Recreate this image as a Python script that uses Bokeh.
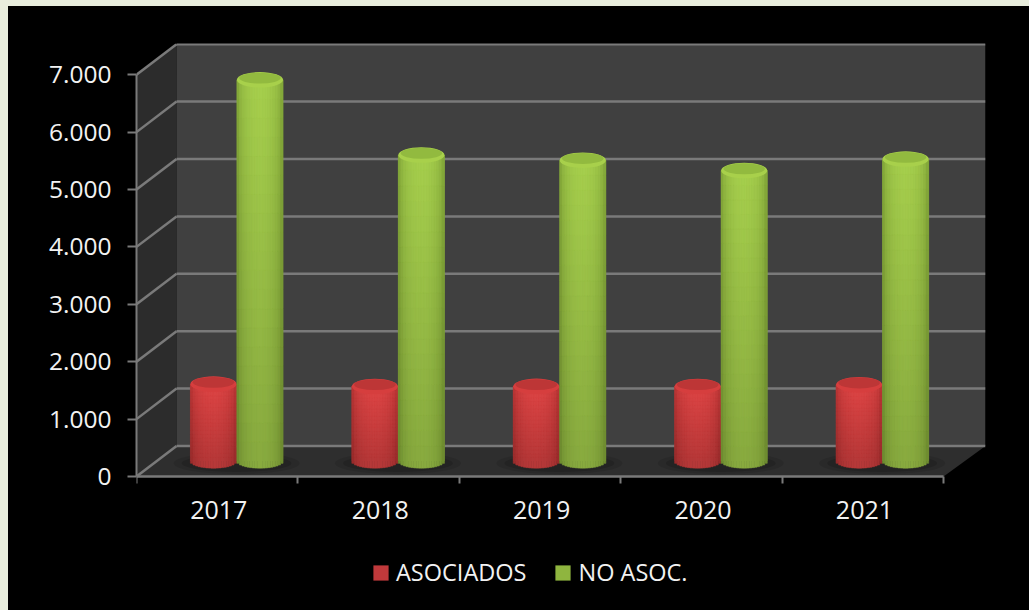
import math
from bokeh.plotting import figure
from bokeh.embed import file_html
from bokeh.resources import INLINE
from bokeh.models import Range1d, FixedTicker, LinearAxis, Legend, LegendItem
from bokeh.core.properties import value

years = ["2017", "2018", "2019", "2020", "2021"]
asociados = [1340, 1300, 1300, 1300, 1330]
no_asoc = [6640, 5330, 5240, 5060, 5260]
y_ticks = [0, 1000, 2000, 3000, 4000, 5000, 6000, 7000]
y_labels = ["0", "1.000", "2.000", "3.000", "4.000", "5.000", "6.000", "7.000"]

DX, DY = 0.248, 531      # oblique depth of the chart box
XMAX, YMIN, YMAX = 5.26, -2230, 7543
HALF = 0.143             # cylinder half width
BASE = 270               # cylinder base height on the floor
RY = 125                 # curvature of the cylinder ends
FONT = "Open Sans"
TEXT = "#f2f2f2"
GRID = "#7a7a7a"

p = figure(frame_width=849, frame_height=561, output_backend="svg", toolbar_location=None,
           x_range=Range1d(0, XMAX), y_range=Range1d(YMIN, YMAX),
           x_axis_type=None, y_axis_type=None,
           min_border_left=128, min_border_right=44, min_border_top=37, min_border_bottom=6,
           background_fill_color="#000000", border_fill_color="#000000", outline_line_color=None)
p.grid.visible = False

# chart box
p.patch([0, DX, DX, 0], [0, DY, 7000 + DY, 7000], fill_color="#2c2c2c", line_color=None)
p.patch([DX, XMAX, XMAX, DX], [DY, DY, 7000 + DY, 7000 + DY], fill_color="#404040", line_color=None)
p.patch([0, DX, XMAX, 5], [0, DY, DY, 0], fill_color="#2e2e2e", line_color=None)
p.segment([DX] * 8, [t + DY for t in y_ticks], [XMAX] * 8, [t + DY for t in y_ticks],
          line_color=GRID, line_width=2.5)
p.segment([0] * 8, y_ticks, [DX] * 8, [t + DY for t in y_ticks], line_color=GRID, line_width=2.5)

# floor shadows
p.ellipse([i + 0.62 for i in range(5)], [BASE - 40] * 5, width=0.78, height=380,
          fill_color="#000000", fill_alpha=0.10, line_color=None)
p.ellipse([i + 0.62 for i in range(5)], [BASE - 40] * 5, width=0.68, height=300,
          fill_color="#000000", fill_alpha=0.14, line_color=None)


def hexrgb(h):
    return tuple(int(h[i:i + 2], 16) for i in (1, 3, 5))


def cylinders(vals, offset, edge, centre, top_c, rim_c, mid):
    xs = [i + offset for i in range(len(vals))]
    body = p.quad(left=[x - HALF for x in xs], right=[x + HALF for x in xs],
                  bottom=[BASE] * len(vals), top=[v + BASE for v in vals],
                  fill_color=mid, line_color=None)
    e, m = hexrgb(edge), hexrgb(centre)
    L, R, B, T, C = [], [], [], [], []
    n_x, n_y = 18, 20
    for x, v in zip(xs, vals):
        for j in range(n_x):
            u0, u1 = -1 + 2 * j / n_x, -1 + 2 * (j + 1) / n_x
            uc = (u0 + u1) / 2
            bow = math.sqrt(max(0, 1 - uc * uc))
            shade = bow ** 0.8
            for k in range(n_y):
                y0 = BASE + v * k / n_y
                y1 = BASE + v * (k + 1) / n_y
                if k == 0:
                    y0 = BASE - RY * bow
                f = 0.82 + 0.18 * (k + 0.5) / n_y
                L.append(x + HALF * u0)
                R.append(x + HALF * u1)
                B.append(y0)
                T.append(y1)
                C.append("#%02x%02x%02x" % tuple(round((a + (b - a) * shade) * f) for a, b in zip(e, m)))
    p.quad(left=L, right=R, bottom=B, top=T, fill_color=C, line_color=C, line_width=0.6)
    tops = [v + BASE for v in vals]
    p.ellipse(xs, tops, width=2 * HALF, height=2 * RY + 20, fill_color=rim_c, line_color=None)
    p.ellipse(xs, [t + 30 for t in tops], width=2 * HALF * 0.9, height=2 * RY - 60,
              fill_color=top_c, line_color=None)
    return body


r_red = cylinders(asociados, 0.477, "#a02b2b", "#de4545", "#bd3636", "#d63e3e", "#c0393b")
r_green = cylinders(no_asoc, 0.765, "#6e8f2d", "#a6cf4d", "#92ba3f", "#a8d04b", "#8fb53f")

# axes
ya = LinearAxis(ticker=FixedTicker(ticks=y_ticks), bounds=(0, 7000),
                major_label_overrides=dict(zip(y_ticks, y_labels)))
ya.axis_line_color = GRID
ya.axis_line_width = 2
ya.major_tick_line_color = GRID
ya.major_tick_line_width = 2
ya.major_tick_in = 0
ya.major_tick_out = 9
ya.minor_tick_line_color = None
ya.major_label_standoff = 16
ya.major_label_text_color = TEXT
ya.major_label_text_font = FONT
ya.major_label_text_font_size = "24.5px"
p.add_layout(ya, "left")

centres = [i + 0.51 for i in range(5)]
xa = LinearAxis(ticker=FixedTicker(ticks=centres, minor_ticks=[0, 1, 2, 3, 4, 5]), bounds=(0, 5),
                major_label_overrides=dict(zip(centres, years)), fixed_location=0)
xa.axis_line_color = GRID
xa.axis_line_width = 2.5
xa.major_tick_line_color = None
xa.major_tick_in = 0
xa.major_tick_out = 0
xa.minor_tick_line_color = GRID
xa.minor_tick_line_width = 2
xa.minor_tick_in = 0
xa.minor_tick_out = 7
xa.major_label_standoff = 18
xa.major_label_text_color = TEXT
xa.major_label_text_font = FONT
xa.major_label_text_font_size = "25px"
p.add_layout(xa, "below")

legend = Legend(items=[LegendItem(label=value("ASOCIADOS"), renderers=[r_red]),
                       LegendItem(label=value("NO ASOC."), renderers=[r_green])],
                orientation="horizontal", location=(235, 16),
                background_fill_alpha=0, border_line_color=None,
                label_text_color=TEXT, label_text_font=FONT, label_text_font_size="23.5px",
                glyph_width=19, glyph_height=19, spacing=27, label_standoff=6, margin=0, padding=0)
p.add_layout(legend, "center")

html = file_html(p, INLINE)
css = ("<style>html{background:linear-gradient(#e9eedd,#e9eedd) 0 0/100% 6px no-repeat,"
       "linear-gradient(#e9eedd,#e9eedd) 0 0/8px 100% no-repeat,#000!important;overflow:hidden}"
       "body{background:transparent!important;margin:6px 0 0 8px!important;padding:0!important}</style>")
html = html.replace("</head>", css + "</head>", 1)
open("out.html", "w").write(html)
